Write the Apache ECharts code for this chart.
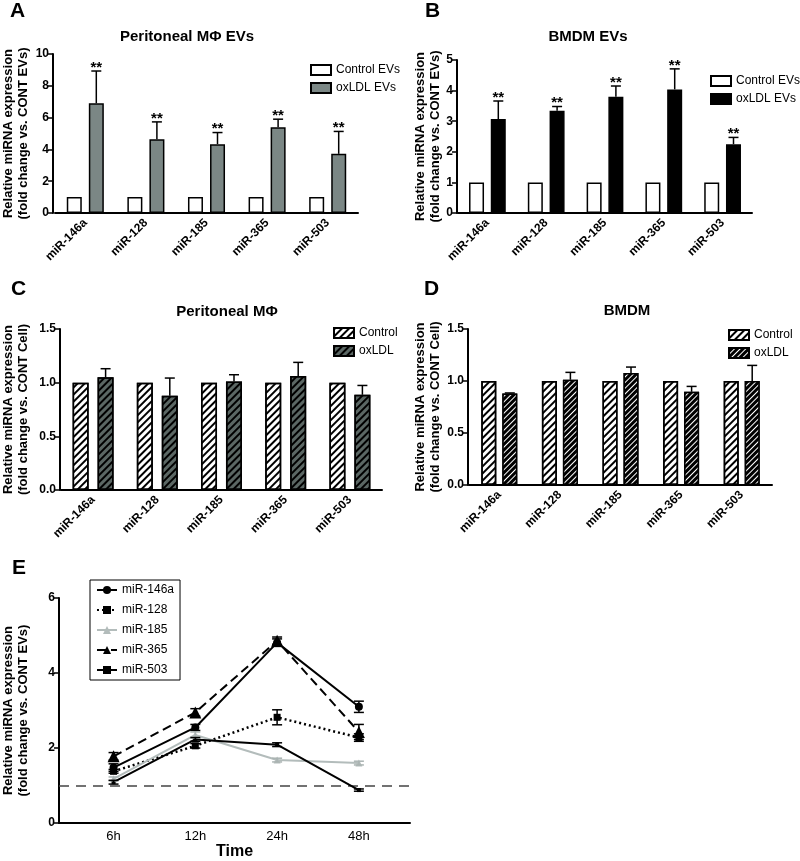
<!DOCTYPE html>
<html><head><meta charset="utf-8">
<script src="https://cdn.jsdelivr.net/npm/echarts@6/dist/echarts.min.js"></script>
<style>html,body{margin:0;padding:0;background:#fff}#c{width:800px;height:861px}</style>
</head><body><div id="c"></div>
<script>
// ---------- DATA ----------
const categories = ['miR-146a', 'miR-128', 'miR-185', 'miR-365', 'miR-503'];
// Panel A: Peritoneal MΦ EVs
const aControl = [1, 1, 1, 1, 1];
const aOxLDL = [6.90, 4.64, 4.33, 5.40, 3.72];
const aOxLDLErr = [2.03, 1.09, 0.73, 0.50, 1.41];
const aSig = ['**', '**', '**', '**', '**'];
// Panel B: BMDM EVs
const bControl = [1, 1, 1, 1, 1];
const bOxLDL = [3.07, 3.34, 3.80, 4.04, 2.25];
const bOxLDLErr = [0.59, 0.14, 0.35, 0.67, 0.22];
const bSig = ['**', '**', '**', '**', '**'];
// Panel C: Peritoneal MΦ
const cControl = [1, 1, 1, 1, 1];
const cOxLDL = [1.05, 0.878, 1.011, 1.061, 0.887];
const cOxLDLErr = [0.08, 0.165, 0.063, 0.128, 0.087];
// Panel D: BMDM
const dControl = [1, 1, 1, 1, 1];
const dOxLDL = [0.88, 1.012, 1.076, 0.896, 0.999];
const dOxLDLErr = [0.005, 0.071, 0.058, 0.052, 0.151];
// Panel E: time course
const timeLabels = ['6h', '12h', '24h', '48h'];
const e146a = [1.48, 2.55, 4.81, 3.10];
const e146aErr = [0.10, 0.08, 0.10, 0.15];
const e128 = [1.38, 2.06, 2.82, 2.28];
const e128Err = [0.05, 0.06, 0.20, 0.10];
const e185 = [1.18, 2.35, 1.68, 1.60];
const e185Err = [0.05, 0.08, 0.05, 0.05];
const e365 = [1.78, 2.95, 4.86, 2.43];
const e365Err = [0.10, 0.10, 0.10, 0.20];
const e503 = [1.09, 2.23, 2.09, 0.88];
const e503Err = [0.05, 0.05, 0.05, 0.03];
const eBaseline = 1;

// ---------- STYLE / HELPERS ----------
const FONT = 'Liberation Sans, Arial, sans-serif';
const chart = echarts.init(document.getElementById('c'), null, {renderer: 'canvas'});

function hatch(color, w, gap) {
  return {symbol: 'rect', symbolSize: 1, dashArrayX: [1, 0], dashArrayY: [w, gap], rotation: -Math.PI / 4, color: color};
}

function catX(g) {
  return {
    type: 'category', gridIndex: g, data: categories, boundaryGap: true,
    axisLine: {lineStyle: {color: '#000', width: 2}},
    axisTick: {alignWithLabel: true, length: 5, lineStyle: {color: '#000', width: 1.5}},
    axisLabel: {rotate: 45, fontWeight: 'bold', fontSize: 12, color: '#000', margin: 8, fontFamily: FONT},
    splitLine: {show: false}
  };
}
function valY(g, min, max, interval, name, nameGap, offset, fmt) {
  return {
    type: 'value', gridIndex: g, min: min, max: max, interval: interval, offset: offset || 0,
    name: name, nameLocation: 'middle', nameGap: nameGap,
    nameTextStyle: {fontWeight: 'bold', fontSize: 13, lineHeight: 15, color: '#000', fontFamily: FONT},
    axisLine: {show: true, onZero: false, lineStyle: {color: '#000', width: 2}},
    axisTick: {show: true, length: 5, lineStyle: {color: '#000', width: 1.5}},
    axisLabel: {fontWeight: 'bold', fontSize: 12, color: '#000', margin: 4, fontFamily: FONT,
      formatter: fmt || (v => String(v))},
    splitLine: {show: false}
  };
}
function errSeries(g, vals, errs, offsetPx, sig) {
  return {
    type: 'custom', xAxisIndex: g, yAxisIndex: g, z: 10, silent: true,
    encode: {x: 0, y: 1},
    data: vals.map((v, i) => [i, v, errs[i]]),
    renderItem: function (params, api) {
      const i = api.value(0), v = api.value(1), e = api.value(2);
      const p0 = api.coord([i, v]);
      const p1 = api.coord([i, v + e]);
      const x = p0[0] + offsetPx;
      const st = {stroke: '#000', lineWidth: 1.5};
      const children = [
        {type: 'line', shape: {x1: x, y1: p0[1], x2: x, y2: p1[1]}, style: st},
        {type: 'line', shape: {x1: x - 5, y1: p1[1], x2: x + 5, y2: p1[1]}, style: st}
      ];
      if (sig && sig[params.dataIndex]) {
        children.push({type: 'text', x: x, y: p1[1] + 4,
          style: {text: sig[params.dataIndex], fill: '#000', font: 'bold 15px ' + FONT, textAlign: 'center', textVerticalAlign: 'bottom'}});
      }
      return {type: 'group', children: children};
    }
  };
}
function eErr(vals, errs, color) {
  return {
    type: 'custom', xAxisIndex: 4, yAxisIndex: 4, z: 10, silent: true,
    encode: {x: 0, y: 1},
    data: vals.map((v, i) => [i, v, errs[i]]),
    renderItem: function (params, api) {
      const i = api.value(0), v = api.value(1), e = api.value(2);
      const pl = api.coord([i, v - e]);
      const ph = api.coord([i, v + e]);
      const x = pl[0];
      const st = {stroke: color, lineWidth: 1.5};
      return {type: 'group', children: [
        {type: 'line', shape: {x1: x, y1: pl[1], x2: x, y2: ph[1]}, style: st},
        {type: 'line', shape: {x1: x - 5, y1: pl[1], x2: x + 5, y2: pl[1]}, style: st},
        {type: 'line', shape: {x1: x - 5, y1: ph[1], x2: x + 5, y2: ph[1]}, style: st}
      ]};
    }
  };
}
function barSeries(g, name, vals, width, gap, style) {
  return {
    type: 'bar', name: name, xAxisIndex: g, yAxisIndex: g, data: vals,
    barWidth: width, barGap: gap, itemStyle: style, silent: true
  };
}
function lineSeries(name, vals, symbol, size, lineStyle, color) {
  return {
    type: 'line', name: name, xAxisIndex: 4, yAxisIndex: 4,
    data: vals.map((v, i) => [i, v]),
    symbol: symbol, symbolSize: size, showSymbol: true,
    lineStyle: Object.assign({color: color, width: 2}, lineStyle),
    itemStyle: {color: color}, silent: true, z: 5
  };
}

const nameEV = 'Relative miRNA expression\n(fold change vs. CONT EVs)';
const nameCell = 'Relative miRNA expression\n(fold change vs. CONT Cell)';
const fmt1 = v => v.toFixed(1);

const whiteBox = {color: '#fff', borderColor: '#000', borderWidth: 1.5};
const grayBox = {color: '#7b8785', borderColor: '#000', borderWidth: 1.5};
const blackBox = {color: '#000', borderColor: '#000', borderWidth: 1.5};
const ctrlHatch = {color: '#fff', borderColor: '#000', borderWidth: 1.5, decal: hatch('#000', 1.5, 2.2)};
const cOxHatch = {color: '#5b6764', borderColor: '#000', borderWidth: 1.5, decal: hatch('#000', 1.5, 2.2)};
const dOxHatch = {color: '#000', borderColor: '#000', borderWidth: 1.5, decal: hatch('#fff', 1, 2.6)};

const legendText = {fontSize: 12, color: '#000', fontFamily: FONT};
const strip = n => n.split('|')[1];
const barLegend = (data, left, top) => ({
  data: data, formatter: strip, orient: 'vertical', left: left, top: top, icon: 'rect',
  itemWidth: 20, itemHeight: 10, itemGap: 6, selectedMode: false, textStyle: legendText
});

const option = {
  animation: false,
  backgroundColor: '#fff',
  textStyle: {fontFamily: FONT},
  title: [
    {text: 'Peritoneal MΦ EVs', left: 182, top: 24, textAlign: 'center', textStyle: {fontSize: 15, fontWeight: 'bold', color: '#000', fontFamily: FONT}},
    {text: 'BMDM EVs', left: 583, top: 24, textAlign: 'center', textStyle: {fontSize: 15, fontWeight: 'bold', color: '#000', fontFamily: FONT}},
    {text: 'Peritoneal MΦ', left: 222, top: 299, textAlign: 'center', textStyle: {fontSize: 15, fontWeight: 'bold', color: '#000', fontFamily: FONT}},
    {text: 'BMDM', left: 622, top: 298, textAlign: 'center', textStyle: {fontSize: 15, fontWeight: 'bold', color: '#000', fontFamily: FONT}}
  ],
  graphic: [
    {type: 'text', left: 10, top: 1, style: {text: 'A', font: 'bold 21px ' + FONT, fill: '#000'}},
    {type: 'text', left: 425, top: 1, style: {text: 'B', font: 'bold 21px ' + FONT, fill: '#000'}},
    {type: 'text', left: 11, top: 279, style: {text: 'C', font: 'bold 21px ' + FONT, fill: '#000'}},
    {type: 'text', left: 424, top: 279, style: {text: 'D', font: 'bold 21px ' + FONT, fill: '#000'}},
    {type: 'text', left: 12, top: 558, style: {text: 'E', font: 'bold 21px ' + FONT, fill: '#000'}}
  ],
  legend: [
    barLegend(['A|Control EVs', 'A|oxLDL EVs'], 305, 59),
    barLegend(['B|Control EVs', 'B|oxLDL EVs'], 705, 70),
    barLegend(['C|Control', 'C|oxLDL'], 328, 322),
    barLegend(['D|Control', 'D|oxLDL'], 723, 324),
    {data: ['miR-146a', 'miR-128', 'miR-185', 'miR-365', 'miR-503'], orient: 'vertical', left: 90, top: 580, itemWidth: 20, itemHeight: 10, itemGap: 8,
      padding: [4, 6, 4, 6], borderColor: '#000', borderWidth: 1, selectedMode: false, textStyle: {fontSize: 12, color: '#000', fontFamily: FONT}}
  ],
  grid: [
    {left: 52, top: 54, width: 306, height: 159},
    {left: 458, top: 60, width: 294, height: 153},
    {left: 60, top: 329, width: 322, height: 161},
    {left: 469, top: 329, width: 303, height: 156},
    {left: 55, top: 598, width: 355, height: 231}
  ],
  xAxis: [
    catX(0), catX(1), catX(2), catX(3),
    {
      type: 'value', gridIndex: 4, min: -0.667, max: 3.625,
      name: 'Time', nameLocation: 'middle', nameGap: 20,
      nameTextStyle: {fontWeight: 'bold', fontSize: 16, color: '#000', fontFamily: FONT},
      axisLine: {onZero: false, lineStyle: {color: '#000', width: 2}},
      axisTick: {show: false},
      axisLabel: {customValues: [0, 1, 2, 3], formatter: v => timeLabels[Math.round(v)] || '', fontSize: 13, color: '#000', margin: 7, fontFamily: FONT},
      splitLine: {show: false}
    }
  ],
  yAxis: [
    valY(0, 0, 10, 2, nameEV, 22, 2),
    valY(1, 0, 5, 1, nameEV, 14, 1),
    valY(2, 0, 1.5, 0.5, nameCell, 29, 1, fmt1),
    valY(3, 0, 1.5, 0.5, nameCell, 23, 1, fmt1),
    valY(4, 0, 6, 2, nameEV, 28, 0)
  ],
  series: [
    barSeries(0, 'A|Control EVs', aControl, 15, '47%', whiteBox),
    barSeries(0, 'A|oxLDL EVs', aOxLDL, 15, '47%', grayBox),
    errSeries(0, aOxLDL, aOxLDLErr, 11, aSig),
    barSeries(1, 'B|Control EVs', bControl, 15, '45%', whiteBox),
    barSeries(1, 'B|oxLDL EVs', bOxLDL, 15, '45%', blackBox),
    errSeries(1, bOxLDL, bOxLDLErr, 10.9, bSig),
    barSeries(2, 'C|Control', cControl, 16, '56%', ctrlHatch),
    barSeries(2, 'C|oxLDL', cOxLDL, 16, '56%', cOxHatch),
    errSeries(2, cOxLDL, cOxLDLErr, 12.5, null),
    barSeries(3, 'D|Control', dControl, 15, '40%', ctrlHatch),
    barSeries(3, 'D|oxLDL', dOxLDL, 15, '40%', dOxHatch),
    errSeries(3, dOxLDL, dOxLDLErr, 10.5, null),
    Object.assign(lineSeries('miR-146a', e146a, 'circle', 8, {type: 'solid'}, '#000'), {
      markLine: {silent: true, symbol: 'none', label: {show: false}, animation: false,
        lineStyle: {color: '#444', type: [10, 7], width: 1.5}, data: [{yAxis: eBaseline}]}
    }),
    lineSeries('miR-128', e128, 'rect', 7, {type: [2, 3], width: 2.5}, '#000'),
    lineSeries('miR-185', e185, 'triangle', 7, {type: 'solid'}, '#b3bcbb'),
    lineSeries('miR-365', e365, 'triangle', 12, {type: [9, 5]}, '#000'),
    lineSeries('miR-503', e503, 'rect', 4, {type: 'solid'}, '#000'),
    eErr(e146a, e146aErr, '#000'),
    eErr(e128, e128Err, '#000'),
    eErr(e185, e185Err, '#aab3b2'),
    eErr(e365, e365Err, '#000'),
    eErr(e503, e503Err, '#000')
  ]
};

chart.setOption(option);
</script>
</body></html>
